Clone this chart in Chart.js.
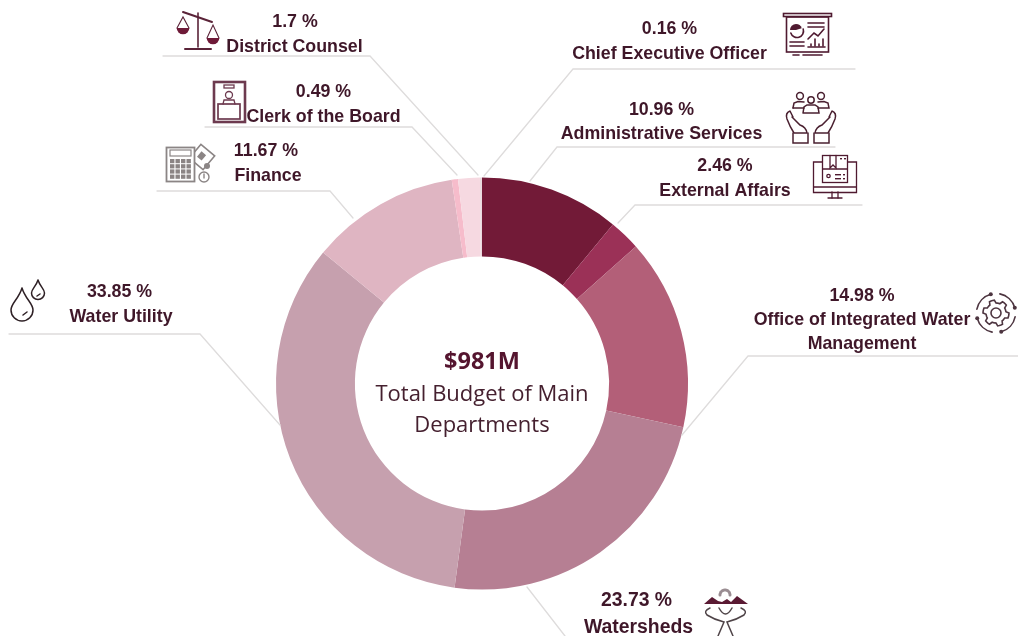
<!DOCTYPE html>
<html>
<head>
<meta charset="utf-8">
<title>Total Budget of Main Departments</title>
<script src="https://cdn.jsdelivr.net/npm/chart.js@4/dist/chart.umd.min.js"></script>
<style>
  html, body { margin: 0; padding: 0; background: #fff; }
  canvas { display: block; }
</style>
</head>
<body>
<canvas id="budgetChart" width="1018" height="636"></canvas>
<script>
// data, clockwise from 12 o'clock
const categories = ["Administrative Services", "External Affairs", "Office of Integrated Water Management",
  "Watersheds", "Water Utility", "Finance", "Clerk of the Board", "District Counsel", "Chief Executive Officer"];
const shares = [10.96, 2.46, 14.98, 23.73, 33.85, 11.67, 0.49, 1.7, 0.16];
const sliceColors = ["#721a37", "#9b3157", "#b35f78", "#b67f93", "#c6a0ae", "#dfb5c2", "#f6bccb", "#f6d9e1", "#ead9de"];
const centerTitle = "$981M";
const centerLines = ["Total Budget of Main", "Departments"];

// callout layout, same order as categories: text centres, baselines, font size, leader line
const nameLines = [["Administrative Services"], ["External Affairs"], ["Office of Integrated Water", "Management"],
  ["Watersheds"], ["Water Utility"], ["Finance"], ["Clerk of the Board"], ["District Counsel"], ["Chief Executive Officer"]];
const pctX = [661.5, 725, 862, 636.5, 119.5, 266, 323.5, 295, 669.5];
const nameX = [661.5, 725, 862, 638.5, 121, 268, 323.5, 294.5, 669.5];
const calloutY = [115, 171, 301, 606, 297, 156, 97, 27, 34];
const calloutGap = [24, 25, 24, 27, 25, 25, 25, 25, 25];
const calloutSize = [17.8, 17.8, 17.8, 19.4, 17.8, 17.8, 17.8, 17.8, 17.8];
const leaders = [
  [[835, 147], [557, 147], [530, 181]],
  [[862, 205], [635, 205], [618, 223]],
  [[1018, 356], [748, 356], [682, 435]],
  [[527, 587], [565, 636]],
  [[9, 334], [200, 334], [280, 425]],
  [[157, 191], [330, 191], [353, 218]],
  [[205, 127], [412, 127], [457, 175]],
  [[163, 56], [370, 56], [478, 175]],
  [[855, 69], [573, 69], [484, 176]]
];

const INK = "#3f1729";
const ICON = "#4f1a30";

function line(ctx, pts) {
  ctx.beginPath();
  pts.forEach((p, i) => i ? ctx.lineTo(p[0], p[1]) : ctx.moveTo(p[0], p[1]));
  ctx.stroke();
}
function circle(ctx, x, y, r) {
  ctx.beginPath();
  ctx.arc(x, y, r, 0, Math.PI * 2);
  ctx.stroke();
}
function drop(ctx, topY, x, cy, r) {
  ctx.beginPath();
  ctx.moveTo(x, topY);
  ctx.bezierCurveTo(x + r * 0.3, cy - r * 1.0, x + r, cy - r * 0.6, x + r, cy);
  ctx.arc(x, cy, r, 0, Math.PI);
  ctx.bezierCurveTo(x - r, cy - r * 0.6, x - r * 0.3, cy - r * 1.0, x, topY);
  ctx.stroke();
}

//icons========================================================
function iconScales(ctx) {
  ctx.strokeStyle = "#5a2338"; ctx.fillStyle = "#6e1a38"; ctx.lineWidth = 2;
  line(ctx, [[183, 12], [212, 22]]);
  ctx.lineWidth = 1.6;
  line(ctx, [[198, 13], [198, 47]]);
  ctx.lineWidth = 2;
  line(ctx, [[185, 49], [211, 49]]);
  ctx.lineWidth = 1.1;
  line(ctx, [[177, 28], [183, 17], [189, 28]]);
  line(ctx, [[207, 38], [213, 25], [219, 38]]);
  ctx.beginPath(); ctx.arc(183, 28, 6.3, 0, Math.PI); ctx.fill();
  ctx.beginPath(); ctx.arc(213, 38, 6.3, 0, Math.PI); ctx.fill();
}
function iconClerk(ctx) {
  ctx.strokeStyle = "#6d3a4f"; ctx.lineWidth = 2.6;
  ctx.strokeRect(214, 82, 31, 40);
  ctx.lineWidth = 1.3;
  ctx.strokeRect(224, 85, 10, 3);
  circle(ctx, 229, 95, 3.5);
  line(ctx, [[223, 104], [224, 100], [234, 100], [235, 104]]);
  ctx.lineWidth = 1.7;
  ctx.strokeRect(218, 104, 22, 15);
}
function iconCalculator(ctx) {
  ctx.strokeStyle = "#8b8585"; ctx.lineWidth = 1.6;
  ctx.save();
  ctx.translate(202, 157); ctx.rotate(0.7);
  ctx.strokeRect(-9, -9, 18, 18);
  ctx.fillStyle = "#8b8585";
  ctx.fillRect(-4, -4, 6, 7);
  ctx.restore();
  ctx.fillStyle = "#fff";
  ctx.fillRect(166, 147, 29, 35);
  ctx.lineWidth = 1.8;
  ctx.strokeRect(166.5, 147.5, 28, 34);
  ctx.lineWidth = 1.2;
  ctx.strokeRect(170, 150, 21, 6);
  ctx.fillStyle = "#8b8585";
  for (let r = 0; r < 4; r++) {
    for (let c = 0; c < 4; c++) {
      ctx.fillRect(170 + c * 5.5, 159 + r * 5.2, 4.4, 4.2);
    }
  }
  ctx.fillStyle = "#fff";
  ctx.beginPath(); ctx.arc(204, 177, 5.5, 0, Math.PI * 2); ctx.fill();
  ctx.lineWidth = 1.4;
  circle(ctx, 204, 177, 5);
  line(ctx, [[204, 174], [204, 178]]);
  ctx.fillStyle = "#8b8585";
  ctx.beginPath(); ctx.arc(207, 166, 3, 0, Math.PI * 2); ctx.fill();
}
function iconBoard(ctx) {
  ctx.strokeStyle = ICON; ctx.fillStyle = ICON; ctx.lineWidth = 1.6;
  ctx.strokeRect(783.5, 13.5, 48, 3);
  ctx.strokeRect(786.5, 17, 42, 35);
  ctx.beginPath(); ctx.moveTo(796, 30); ctx.arc(796, 30, 6, Math.PI, Math.PI * 1.9); ctx.closePath(); ctx.fill();
  ctx.beginPath(); ctx.arc(797, 31, 6.5, -0.3, Math.PI * 0.9); ctx.stroke();
  line(ctx, [[808, 23], [824, 23]]);
  line(ctx, [[808, 27], [824, 27]]);
  line(ctx, [[808, 39], [814, 33], [818, 36], [824, 29]]);
  line(ctx, [[790, 42], [804, 42]]);
  line(ctx, [[790, 46], [804, 46]]);
  line(ctx, [[808, 47], [825, 47]]);
  for (let i = 0; i < 4; i++) line(ctx, [[811 + i * 4, 46], [811 + i * 4, 44 - (i % 2) * 5]]);
  line(ctx, [[793, 55], [799, 55]]);
  line(ctx, [[803, 55], [822, 55]]);
}
function iconHands(ctx) {
  ctx.strokeStyle = "#4a2030"; ctx.lineWidth = 1.5;
  circle(ctx, 800, 96, 3.4);
  circle(ctx, 811, 100, 3.2);
  circle(ctx, 821, 96, 3.4);
  line(ctx, [[793, 108], [794, 103], [798, 101.5], [804, 102]]);
  line(ctx, [[818, 102], [824, 101.5], [828, 103], [829, 108], [818, 108]]);
  line(ctx, [[793, 108], [804, 108]]);
  line(ctx, [[803, 113], [804, 107], [807, 105], [815, 105], [818, 107], [819, 113], [803, 113]]);
  // left hand, right hand mirrored round x = 811
  [1, -1].forEach(s => {
    const x = v => 811 + s * (v - 811);
    ctx.beginPath();
    ctx.moveTo(x(790), 111);
    ctx.quadraticCurveTo(x(785), 113, x(787), 119);
    ctx.quadraticCurveTo(x(790), 127, x(794), 133);
    ctx.lineTo(x(807), 133);
    ctx.quadraticCurveTo(x(806), 127, x(800), 125);
    ctx.lineTo(x(792), 117);
    ctx.moveTo(x(790), 111);
    ctx.lineTo(x(793), 117);
    ctx.stroke();
    line(ctx, [[x(793), 133], [x(793), 143], [x(808), 143], [x(808), 133]]);
  });
}
function iconMonitor(ctx) {
  ctx.strokeStyle = ICON; ctx.fillStyle = ICON; ctx.lineWidth = 1.3;
  line(ctx, [[822, 162], [813.5, 162], [813.5, 192.5], [856.5, 192.5], [856.5, 162], [848, 162]]);
  line(ctx, [[814, 187], [856, 187]]);
  ctx.strokeRect(822.5, 155.5, 25, 27);
  line(ctx, [[823, 169], [847, 169]]);
  line(ctx, [[830, 155.5], [830, 168], [833, 165], [836, 168], [836, 155.5]]);
  circle(ctx, 828.5, 176, 1.7);
  ctx.fillRect(835, 174, 6, 1.4);
  ctx.fillRect(835, 178, 6, 1.4);
  ctx.fillRect(843, 174, 2, 1.4);
  ctx.fillRect(843, 178, 2, 1.4);
  ctx.fillRect(840, 158, 2, 1.4);
  ctx.fillRect(844, 158, 2, 1.4);
  line(ctx, [[832, 192], [832, 198]]);
  line(ctx, [[838, 192], [838, 198]]);
  line(ctx, [[828, 198], [842, 198]]);
}
function iconGear(ctx) {
  const cx = 996, cy = 313;
  ctx.strokeStyle = "#4d3540"; ctx.fillStyle = "#4d3540"; ctx.lineWidth = 1.6;
  circle(ctx, cx, cy, 5);
  ctx.beginPath();
  for (let i = 0; i < 48; i++) {
    const a = i / 48 * Math.PI * 2;
    const r = (i % 8) < 4 ? 13 : 10;
    const px = cx + Math.cos(a) * r, py = cy + Math.sin(a) * r;
    i ? ctx.lineTo(px, py) : ctx.moveTo(px, py);
  }
  ctx.closePath();
  ctx.stroke();
  for (let q = 0; q < 4; q++) {
    const a = q * Math.PI / 2 + 0.2;
    ctx.beginPath(); ctx.arc(cx, cy, 19.5, a, a + 1.1); ctx.stroke();
    const ex = cx + Math.cos(a + 1.1) * 19.5, ey = cy + Math.sin(a + 1.1) * 19.5;
    ctx.beginPath(); ctx.arc(ex, ey, 2, 0, Math.PI * 2); ctx.fill();
  }
}
function iconDrops(ctx) {
  ctx.strokeStyle = "#2e2025"; ctx.lineWidth = 1.5;
  drop(ctx, 288, 22, 310, 11);
  drop(ctx, 280, 38, 293, 6.5);
  line(ctx, [[23, 315], [27, 312]]);
  line(ctx, [[37, 296], [40, 294]]);
}
function iconMountains(ctx) {
  ctx.fillStyle = "#5a1a33"; ctx.strokeStyle = "#4f4448"; ctx.lineWidth = 1.5;
  ctx.beginPath();
  ctx.moveTo(704, 604); ctx.lineTo(712, 597); ctx.lineTo(718, 601); ctx.lineTo(722, 602);
  ctx.lineTo(727, 599); ctx.lineTo(731, 602); ctx.lineTo(737, 596); ctx.lineTo(748, 604);
  ctx.closePath();
  ctx.fill();
  ctx.strokeStyle = "#9a8d92";
  ctx.setLineDash([1, 1.4]);
  ctx.lineWidth = 3;
  ctx.beginPath(); ctx.arc(725, 595, 5, Math.PI, 0); ctx.stroke();
  ctx.setLineDash([]);
  ctx.strokeStyle = "#4f4448";
  ctx.lineWidth = 1.5;
  [1, -1].forEach(s => {
    const x = v => 725.5 + s * (v - 725.5);
    ctx.beginPath();
    ctx.moveTo(x(710), 608);
    ctx.quadraticCurveTo(x(703), 611, x(707), 615);
    ctx.quadraticCurveTo(x(715), 620, x(724), 622);
    ctx.lineTo(x(718), 636);
    ctx.stroke();
  });
  ctx.beginPath();
  ctx.moveTo(719, 608);
  ctx.quadraticCurveTo(725.5, 620, 732, 608);
  ctx.stroke();
}
const icons = [iconHands, iconMonitor, iconGear, iconMountains, iconDrops, iconCalculator, iconClerk, iconScales, iconBoard];

//callouts drawn on top of the doughnut========================
const calloutPlugin = {
  id: "callouts",
  afterDraw(chart) {
    const ctx = chart.ctx;
    ctx.save();
    ctx.filter = "blur(0.4px)";
    ctx.lineCap = "round";
    ctx.strokeStyle = "#dedcdc";
    ctx.lineWidth = 1.3;
    leaders.forEach(pts => line(ctx, pts));

    ctx.textAlign = "center";
    ctx.textBaseline = "alphabetic";
    ctx.fillStyle = INK;
    shares.forEach((v, i) => {
      ctx.font = "bold " + calloutSize[i] + "px 'Liberation Sans', Arial, sans-serif";
      ctx.fillText(v + " %", pctX[i], calloutY[i]);
      nameLines[i].forEach((t, j) => ctx.fillText(t, nameX[i], calloutY[i] + calloutGap[i] * (j + 1)));
    });

    ctx.fillStyle = "#55152f";
    ctx.font = "bold 23.5px 'Open Sans', sans-serif";
    ctx.fillText(centerTitle, 482, 369);
    ctx.fillStyle = "#45202f";
    ctx.font = "22px 'Open Sans', sans-serif";
    centerLines.forEach((t, j) => ctx.fillText(t, 482, 401 + j * 31));

    icons.forEach(fn => { ctx.save(); fn(ctx); ctx.restore(); });
    ctx.restore();
  }
};

new Chart(document.getElementById("budgetChart"), {
  type: "doughnut",
  data: {
    labels: categories,
    datasets: [{ data: shares, backgroundColor: sliceColors, borderWidth: 0 }]
  },
  options: {
    responsive: false,
    animation: false,
    cutout: "61.7%",
    layout: { padding: { left: 276, right: 330, top: 177.5, bottom: 46.5 } },
    plugins: { legend: { display: false }, tooltip: { enabled: false } },
    events: []
  },
  plugins: [calloutPlugin]
});
</script>
</body>
</html>
